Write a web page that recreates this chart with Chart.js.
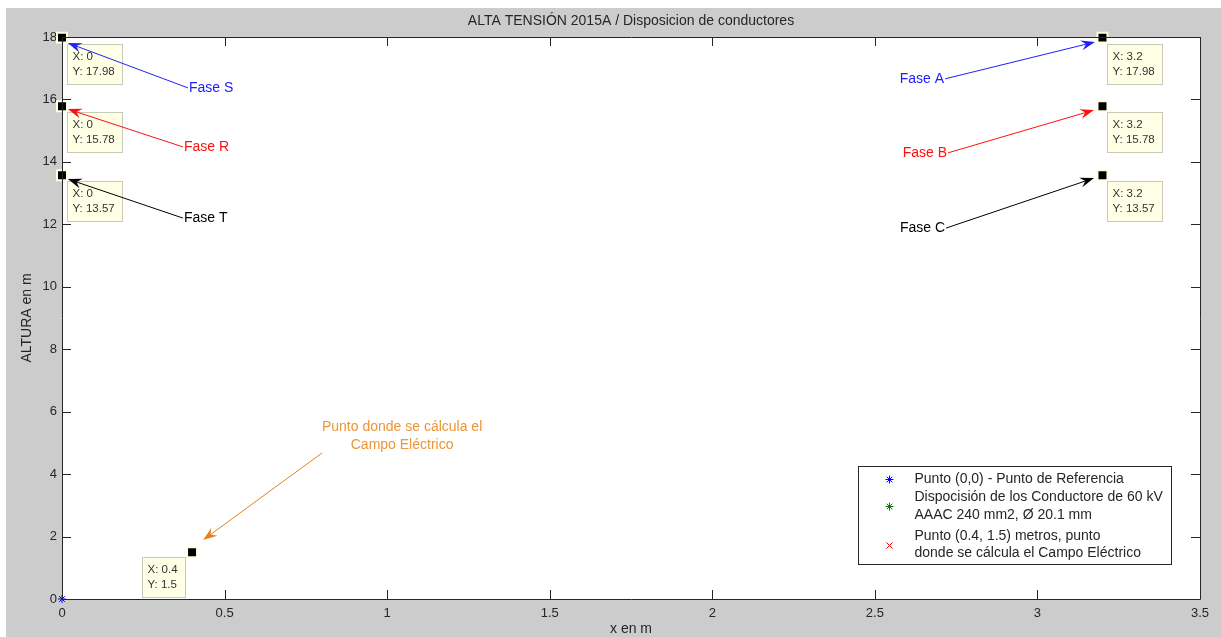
<!DOCTYPE html>
<html>
<head>
<meta charset="utf-8">
<script src="https://cdn.jsdelivr.net/npm/chart.js@4.4.1/dist/chart.umd.min.js"></script>
<style>
html, body { margin: 0; padding: 0; background: #fff; }
#wrap { position: absolute; left: 6px; top: 8px; width: 1215px; height: 629px; background: #cccccc; }
</style>
</head>
<body>
<div id="wrap"><canvas id="myChart"></canvas></div>
<script>
var xTicks = [0, 0.5, 1, 1.5, 2, 2.5, 3, 3.5];
var yTicks = [0, 2, 4, 6, 8, 10, 12, 14, 16, 18];

var refX = [0];
var refY = [0];
var condX = [0, 0, 0, 3.2, 3.2, 3.2];
var condY = [17.98, 15.78, 13.57, 17.98, 15.78, 13.57];
var calcX = [0.4];
var calcY = [1.5];

var seriesLabels = [
  ["Punto (0,0) - Punto de Referencia"],
  ["Dispocisión de los Conductore de 60 kV", "AAAC 240 mm2, Ø 20.1 mm"],
  ["Punto (0.4, 1.5) metros, punto", "donde se cálcula el Campo Eléctrico"]
];
var phaseNames = ["Fase S", "Fase R", "Fase T", "Fase A", "Fase B", "Fase C"];
var phaseColors = ["#2020ff", "#ff1010", "#000000", "#2020ff", "#ff1010", "#000000"];

// text anchor / arrow tip, in data units
var phaseFrom = [[0.3875, 16.37], [0.372, 14.48], [0.372, 12.20], [2.716, 16.66], [2.725, 14.29], [2.719, 11.88]];
var phaseTip = [[0.018, 17.81], [0.018, 15.69], [0.018, 13.45], [3.177, 17.84], [3.174, 15.66], [3.174, 13.48]];
var calcNote = ["Punto donde se cálcula el", "Campo Eléctrico"];
var calcNoteAt = [1.046, 5.51];
var calcFrom = [0.80, 4.68];
var calcTip = [0.434, 1.89];

function pts(xs, ys) {
  return xs.map(function (x, i) { return {x: x, y: ys[i]}; });
}
var tipPoints = pts(condX, condY).concat(pts(calcX, calcY));

var FONT = "'Liberation Sans', Arial, sans-serif";
var INK = "#262626";

function arrow(ctx, x1, y1, x2, y2, color) {
  var a = Math.atan2(y2 - y1, x2 - x1);
  var L = 14, W = 5;
  ctx.save();
  ctx.strokeStyle = color;
  ctx.fillStyle = color;
  ctx.lineWidth = 1;
  ctx.beginPath();
  ctx.moveTo(x1, y1);
  ctx.lineTo(x2 - L * 0.6 * Math.cos(a), y2 - L * 0.6 * Math.sin(a));
  ctx.stroke();
  ctx.translate(x2, y2);
  ctx.rotate(a);
  ctx.beginPath();
  ctx.moveTo(0, 0);
  ctx.lineTo(-L, -W);
  ctx.lineTo(-L * 0.65, 0);
  ctx.lineTo(-L, W);
  ctx.closePath();
  ctx.fill();
  ctx.restore();
}

function drawStar(ctx, x, y, r, color) {
  ctx.save();
  ctx.strokeStyle = color;
  ctx.lineWidth = 1;
  ctx.beginPath();
  ctx.moveTo(x - r, y); ctx.lineTo(x + r, y);
  ctx.moveTo(x, y - r); ctx.lineTo(x, y + r);
  var d = r * 0.7;
  ctx.moveTo(x - d, y - d); ctx.lineTo(x + d, y + d);
  ctx.moveTo(x - d, y + d); ctx.lineTo(x + d, y - d);
  ctx.stroke();
  ctx.restore();
}

var background = {
  id: "background",
  beforeDraw: function (chart) {
    var ctx = chart.ctx, a = chart.chartArea;
    ctx.save();
    ctx.fillStyle = "#ffffff";
    ctx.fillRect(a.left, a.top, a.right - a.left, a.bottom - a.top);
    ctx.restore();
  }
};

var decorations = {
  id: "decorations",
  afterDraw: function (chart) {
    var ctx = chart.ctx, a = chart.chartArea;
    var xs = chart.scales.x, ys = chart.scales.y;
    ctx.save();

    // box and inward ticks
    ctx.strokeStyle = INK;
    ctx.lineWidth = 1;
    ctx.beginPath();
    ctx.rect(Math.round(a.left) + 0.5, Math.round(a.top) + 0.5, Math.round(a.right - a.left), Math.round(a.bottom - a.top));
    xTicks.forEach(function (v) {
      var px = Math.round(xs.getPixelForValue(v)) + 0.5;
      ctx.moveTo(px, a.bottom); ctx.lineTo(px, a.bottom - 9);
      ctx.moveTo(px, a.top); ctx.lineTo(px, a.top + 9);
    });
    yTicks.forEach(function (v) {
      var py = Math.round(ys.getPixelForValue(v)) + 0.5;
      ctx.moveTo(a.left, py); ctx.lineTo(a.left + 9, py);
      ctx.moveTo(a.right, py); ctx.lineTo(a.right - 9, py);
    });
    ctx.stroke();

    // title and axis titles
    ctx.fillStyle = INK;
    ctx.font = "14px " + FONT;
    ctx.textAlign = "center";
    ctx.textBaseline = "middle";
    ctx.fillText("ALTA TENSIÓN 2015A / Disposicion de conductores", (a.left + a.right) / 2, 13);
    ctx.fillText("x en m", (a.left + a.right) / 2, 621);
    ctx.save();
    ctx.translate(21, (a.top + a.bottom) / 2);
    ctx.rotate(-Math.PI / 2);
    ctx.fillText("ALTURA en m", 0, 0);
    ctx.restore();

    // data tips
    ctx.font = "11.5px " + FONT;
    ctx.textAlign = "left";
    tipPoints.forEach(function (p, i) {
      var px = xs.getPixelForValue(p.x), py = ys.getPixelForValue(p.y);
      var l1 = "X: " + p.x, l2 = "Y: " + p.y;
      var w = Math.ceil(Math.max(ctx.measureText(l1).width, ctx.measureText(l2).width)) + 12;
      var bx = i < condX.length ? px + 5 : px - 7 - w;
      var by = i < condX.length ? py + 6 : py + 5;
      bx = Math.round(bx) + 0.5; by = Math.round(by) + 0.5;
      ctx.fillStyle = "#ffffe6";
      ctx.strokeStyle = "#c9c9b8";
      ctx.fillRect(bx, by, w, 40);
      ctx.strokeRect(bx, by, w, 40);
      ctx.fillStyle = "#333333";
      ctx.fillText(l1, bx + 5, by + 12);
      ctx.fillText(l2, bx + 5, by + 27);
    });

    // phase annotations
    ctx.font = "14px " + FONT;
    phaseNames.forEach(function (name, i) {
      var fx = xs.getPixelForValue(phaseFrom[i][0]), fy = ys.getPixelForValue(phaseFrom[i][1]);
      var tx = xs.getPixelForValue(phaseTip[i][0]), ty = ys.getPixelForValue(phaseTip[i][1]);
      arrow(ctx, fx, fy, tx, ty, phaseColors[i]);
      ctx.fillStyle = phaseColors[i];
      ctx.textAlign = tx > fx ? "right" : "left";
      ctx.fillText(name, tx > fx ? fx - 1 : fx + 1, fy);
    });

    // note for the calculation point
    arrow(ctx, xs.getPixelForValue(calcFrom[0]), ys.getPixelForValue(calcFrom[1]),
      xs.getPixelForValue(calcTip[0]), ys.getPixelForValue(calcTip[1]), "#e8801a");
    ctx.fillStyle = "#ee9535";
    ctx.textAlign = "center";
    var nx = xs.getPixelForValue(calcNoteAt[0]), ny = ys.getPixelForValue(calcNoteAt[1]);
    calcNote.forEach(function (line, k) { ctx.fillText(line, nx, ny + k * 18); });

    // legend
    var lw = 313, lh = 98;
    var lx = Math.round(a.right - 29 - lw) + 0.5, ly = Math.round(a.bottom - 35 - lh) + 0.5;
    ctx.fillStyle = "#ffffff";
    ctx.fillRect(lx, ly, lw, lh);
    ctx.strokeStyle = INK;
    ctx.strokeRect(lx, ly, lw, lh);
    ctx.font = "14px " + FONT;
    ctx.fillStyle = INK;
    ctx.textAlign = "left";
    var rows = [[13], [31, 49], [70, 87]];
    var marks = [13, 40, 79];
    seriesLabels.forEach(function (lines, i) {
      lines.forEach(function (t, k) { ctx.fillText(t, lx + 56, ly + rows[i][k]); });
    });
    drawStar(ctx, lx + 31, ly + marks[0], 4, "#0000ff");
    drawStar(ctx, lx + 31, ly + marks[1], 4, "#008000");
    ctx.strokeStyle = "#ff0000";
    ctx.beginPath();
    ctx.moveTo(lx + 28, ly + marks[2] - 3); ctx.lineTo(lx + 34, ly + marks[2] + 3);
    ctx.moveTo(lx + 28, ly + marks[2] + 3); ctx.lineTo(lx + 34, ly + marks[2] - 3);
    ctx.stroke();

    ctx.restore();
  }
};

function plainTick(v) { return String(v); }

var myChart = new Chart("myChart", {
  type: "scatter",
  data: {
    datasets: [
      {label: seriesLabels[0].join(" "), data: pts(refX, refY), order: 0, pointStyle: "star", radius: 4, borderColor: "#0000ff", backgroundColor: "#0000ff", borderWidth: 1, clip: false},
      {label: seriesLabels[1].join(" "), data: pts(condX, condY), order: 2, pointStyle: "star", radius: 4, borderColor: "#008000", backgroundColor: "#008000", borderWidth: 1, clip: false},
      {label: seriesLabels[2].join(" "), data: pts(calcX, calcY), order: 2, pointStyle: "crossRot", radius: 3, borderColor: "#ff0000", borderWidth: 1, clip: false},
      {label: "datatips", data: tipPoints, order: 1, pointStyle: "rect", radius: 7.07, backgroundColor: "#000000", borderColor: "#ffffe1", borderWidth: 2, clip: false}
    ]
  },
  options: {
    responsive: true,
    maintainAspectRatio: false,
    animation: false,
    layout: {padding: {top: 29, right: 21, left: 0, bottom: 0}},
    plugins: {legend: {display: false}, tooltip: {enabled: false}},
    scales: {
      x: {
        type: "linear", min: 0, max: 3.5,
        afterBuildTicks: function (s) { s.ticks = xTicks.map(function (v) { return {value: v}; }); },
        afterFit: function (s) { s.height = 38; },
        grid: {display: false, drawTicks: false},
        border: {display: false},
        ticks: {color: INK, font: {family: FONT, size: 13}, padding: 7, maxRotation: 0, callback: plainTick}
      },
      y: {
        type: "linear", min: 0, max: 18,
        afterBuildTicks: function (s) { s.ticks = yTicks.map(function (v) { return {value: v}; }); },
        afterFit: function (s) { s.width = 56; },
        grid: {display: false, drawTicks: false},
        border: {display: false},
        ticks: {color: INK, font: {family: FONT, size: 13}, padding: 5, callback: plainTick}
      }
    }
  },
  plugins: [background, decorations]
});
</script>
</body>
</html>
